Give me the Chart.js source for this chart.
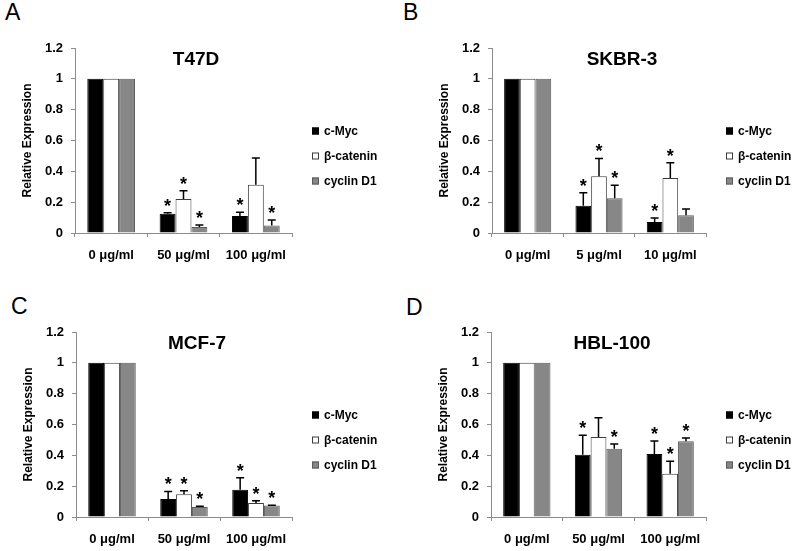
<!DOCTYPE html>
<html>
<head>
<meta charset="utf-8">
<script src="https://cdn.jsdelivr.net/npm/chart.js@4.4.1/dist/chart.umd.min.js"></script>
<style>
    body {
        margin: 0;
        background: #fff;
        width: 800px;
        height: 551px;
        overflow: hidden;
        position: relative;
        font-family: "Liberation Sans", Arial, sans-serif;
    }
    canvas { position: absolute; }
    .letra {
        position: absolute;
        font-size: 23px;
        line-height: 1;
        color: #000;
    }
</style>
</head>
<body>

<div class="letra" style="left:5px; top:1px;">A</div>
<div class="letra" style="left:403px; top:1px;">B</div>
<div class="letra" style="left:11px; top:295px;">C</div>
<div class="letra" style="left:406px; top:296px;">D</div>

<canvas id="graficaA" width="400" height="276" style="left:0; top:0;"></canvas>
<canvas id="graficaB" width="400" height="276" style="left:400px; top:0;"></canvas>
<canvas id="graficaC" width="400" height="276" style="left:0; top:275px;"></canvas>
<canvas id="graficaD" width="400" height="276" style="left:400px; top:275px;"></canvas>

<script>
/* =========================================================
    DATOS
========================================================= */
const series = ["c-Myc", "β-catenin", "cyclin D1"];
const yTicks = [0, 0.2, 0.4, 0.6, 0.8, 1, 1.2];
const yTickLabels = ["0", "0.2", "0.4", "0.6", "0.8", "1", "1.2"];

// A - T47D
const t47dLabels = ["0 μg/ml", "50 μg/ml", "100 μg/ml"];
const t47dMyc = [1, 0.125, 0.11];
const t47dCat = [1, 0.22, 0.313];
const t47dCyc = [1, 0.039, 0.049];
const t47dMycErr = [0, 0.006, 0.024];
const t47dCatErr = [0, 0.054, 0.173];
const t47dCycErr = [0, 0.013, 0.035];
const t47dMycStar = [0, 1, 1];
const t47dCatStar = [0, 1, 0];
const t47dCycStar = [0, 1, 1];

// B - SKBR-3
const skbrLabels = ["0 μg/ml", "5 μg/ml", "10 μg/ml"];
const skbrMyc = [1, 0.177, 0.071];
const skbrCat = [1, 0.368, 0.357];
const skbrCyc = [1, 0.225, 0.115];
const skbrMycErr = [0, 0.084, 0.026];
const skbrCatErr = [0, 0.116, 0.099];
const skbrCycErr = [0, 0.084, 0.041];
const skbrMycStar = [0, 1, 1];
const skbrCatStar = [0, 1, 1];
const skbrCycStar = [0, 1, 0];

// C - MCF-7
const mcfLabels = ["0 μg/ml", "50 μg/ml", "100 μg/ml"];
const mcfMyc = [1, 0.117, 0.177];
const mcfCat = [1, 0.147, 0.091];
const mcfCyc = [1, 0.065, 0.074];
const mcfMycErr = [0, 0.049, 0.078];
const mcfCatErr = [0, 0.024, 0.015];
const mcfCycErr = [0, 0.004, 0.002];
const mcfMycStar = [0, 1, 1];
const mcfCatStar = [0, 1, 1];
const mcfCycStar = [0, 1, 1];

// D - HBL-100
const hblLabels = ["0 μg/ml", "50 μg/ml", "100 μg/ml"];
const hblMyc = [1, 0.404, 0.409];
const hblCat = [1, 0.519, 0.281];
const hblCyc = [1, 0.443, 0.491];
const hblMycErr = [0, 0.126, 0.084];
const hblCatErr = [0, 0.125, 0.08];
const hblCycErr = [0, 0.031, 0.021];
const hblMycStar = [0, 1, 1];
const hblCatStar = [0, 0, 1];
const hblCycStar = [0, 1, 1];

/* =========================================================
    ESTILO
========================================================= */
const FUENTE = '"Liberation Sans", Arial, sans-serif';
const gris = "#8c8c8c";
const rellenos = ["#000000", "#ffffff", "#878787"];
const bordes = ["#000000", "#3c3c3c", "#5a5a5a"];

Chart.defaults.color = "#000";
Chart.defaults.font.family = FUENTE;

// error bars, asteriscos, titulo y leyenda
const panelPlugin = {
    id: "panel",
    afterDatasetsDraw(chart, args, opts) {
        const ctx = chart.ctx;
        const y = chart.scales.y;
        const area = chart.chartArea;
        ctx.save();

        chart.data.datasets.forEach((ds, i) => {
            const meta = chart.getDatasetMeta(i);
            meta.data.forEach((bar, j) => {
                let tope = bar.y;
                if (ds.errores[j] > 0) {
                    tope = y.getPixelForValue(ds.data[j] + ds.errores[j]);
                    ctx.strokeStyle = "#000";
                    ctx.lineWidth = 1.5;
                    ctx.beginPath();
                    ctx.moveTo(bar.x, bar.y);
                    ctx.lineTo(bar.x, tope);
                    ctx.moveTo(bar.x - 4, tope);
                    ctx.lineTo(bar.x + 4, tope);
                    ctx.stroke();
                }
                if (ds.estrellas[j]) {
                    ctx.fillStyle = "#000";
                    ctx.font = "bold 18px " + FUENTE;
                    ctx.textAlign = "center";
                    ctx.textBaseline = "alphabetic";
                    ctx.fillText("*", bar.x, tope - 1);
                }
            });
        });

        // titulo
        ctx.fillStyle = "#000";
        ctx.font = "bold 19px " + FUENTE;
        ctx.textAlign = "center";
        ctx.textBaseline = "middle";
        ctx.fillText(opts.titulo, opts.tituloX, area.top + 12);

        // leyenda
        ctx.font = "bold 12px " + FUENTE;
        ctx.textAlign = "left";
        chart.data.datasets.forEach((ds, i) => {
            const yy = area.top + 83 + 25 * i;
            const xx = area.right + 20;
            ctx.fillStyle = ds.backgroundColor;
            ctx.fillRect(xx, yy - 3.5, 7, 7);
            ctx.strokeStyle = ds.borderColor;
            ctx.lineWidth = 1;
            ctx.strokeRect(xx + 0.5, yy - 3, 6, 6);
            ctx.fillStyle = "#000";
            ctx.fillText(ds.label, xx + 12, yy + 0.5);
        });

        ctx.restore();
    }
};

function grafica(id, titulo, tituloX, labels, valores, errores, estrellas, pad) {
    new Chart(document.getElementById(id), {
        type: "bar",
        data: {
            labels: labels,
            datasets: valores.map((v, i) => ({
                label: series[i],
                data: v,
                errores: errores[i],
                estrellas: estrellas[i],
                backgroundColor: rellenos[i],
                borderColor: bordes[i],
                borderWidth: 1,
                categoryPercentage: 0.66,
                barPercentage: 1.0
            }))
        },
        options: {
            responsive: false,
            animation: false,
            layout: { padding: pad },
            plugins: {
                legend: { display: false },
                tooltip: { enabled: false },
                panel: { titulo: titulo, tituloX: tituloX }
            },
            scales: {
                x: {
                    grid: {
                        drawOnChartArea: false,
                        drawTicks: true,
                        tickLength: 4,
                        color: gris,
                        offset: true
                    },
                    border: { color: gris },
                    ticks: {
                        font: { size: 13, weight: "bold" },
                        padding: 11,
                        maxRotation: 0,
                        autoSkip: false
                    },
                    afterFit: s => { s.height = 30; }
                },
                y: {
                    min: 0,
                    max: 1.2,
                    afterBuildTicks: s => { s.ticks = yTicks.map(v => ({ value: v })); },
                    ticks: {
                        font: { size: 13, weight: "bold" },
                        padding: 8,
                        callback: (v, i) => yTickLabels[i]
                    },
                    grid: {
                        drawOnChartArea: false,
                        tickLength: 4,
                        color: gris
                    },
                    border: { color: gris },
                    title: {
                        display: true,
                        text: "Relative Expression",
                        font: { size: 12, weight: "bold" },
                        padding: { top: 20, bottom: 0 }
                    },
                    afterFit: s => { s.width = 75; }
                }
            }
        },
        plugins: [panelPlugin]
    });
}

/* =========================================================
    GRAFICAS
========================================================= */
grafica("graficaA", "T47D", 196, t47dLabels,
    [t47dMyc, t47dCat, t47dCyc],
    [t47dMycErr, t47dCatErr, t47dCycErr],
    [t47dMycStar, t47dCatStar, t47dCycStar],
    { left: 0, right: 108, top: 48, bottom: 13 });

grafica("graficaB", "SKBR-3", 222, skbrLabels,
    [skbrMyc, skbrCat, skbrCyc],
    [skbrMycErr, skbrCatErr, skbrCycErr],
    [skbrMycStar, skbrCatStar, skbrCycStar],
    { left: 17, right: 94, top: 48, bottom: 13 });

grafica("graficaC", "MCF-7", 197, mcfLabels,
    [mcfMyc, mcfCat, mcfCyc],
    [mcfMycErr, mcfCatErr, mcfCycErr],
    [mcfMycStar, mcfCatStar, mcfCycStar],
    { left: 1, right: 108, top: 57, bottom: 4 });

grafica("graficaD", "HBL-100", 212, hblLabels,
    [hblMyc, hblCat, hblCyc],
    [hblMycErr, hblCatErr, hblCycErr],
    [hblMycStar, hblCatStar, hblCycStar],
    { left: 16, right: 94, top: 57, bottom: 4 });
</script>
</body>
</html>
